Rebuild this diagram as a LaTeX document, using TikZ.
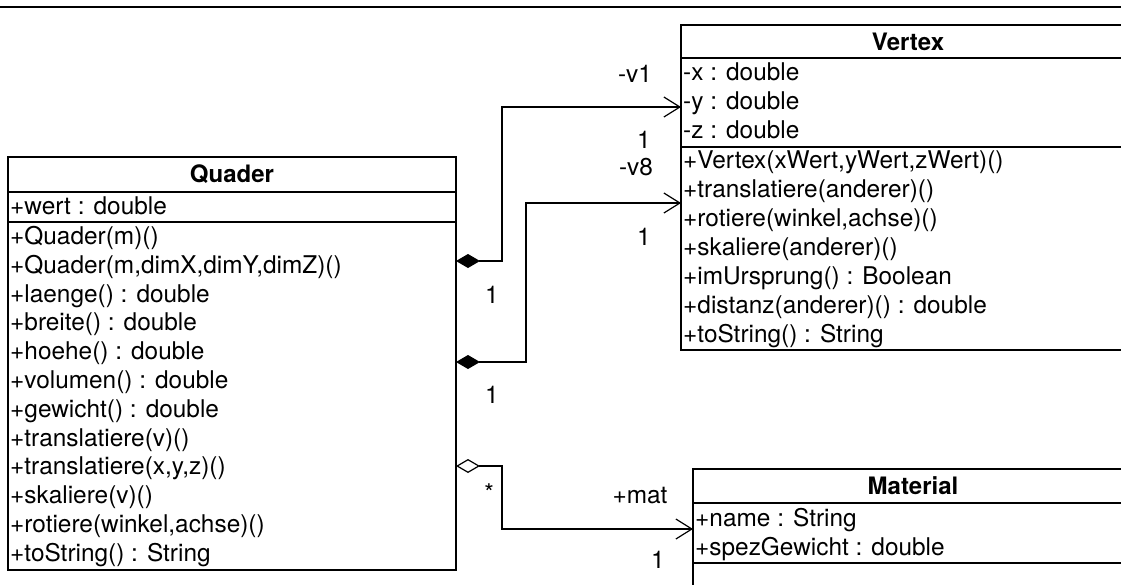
\documentclass[tikz,border=0pt]{standalone}
\usepackage{fontspec}
\setmainfont{TeX Gyre Heros}
\usetikzlibrary{arrows.meta}
\tikzset{
  umlfont/.style={font=\fontsize{24.4}{28}\selectfont},
  umlpart/.style={draw, line width=1.3pt, anchor=north west, inner sep=0pt, outer sep=0pt},
  umlhead/.style={umlfont, font=\bfseries\fontsize{24}{28}\selectfont, inner sep=0pt},
  umlrow/.style={umlfont, anchor=west, inner sep=0pt, text height=15pt, text depth=0pt},
  role/.style={umlfont, inner sep=0pt},
  comp/.style={line width=1.2pt, {Diamond[length=24pt,width=14pt]}-{Straight Barb[length=16pt,width=20pt]}},
  aggr/.style={line width=1.2pt, {Diamond[open,length=24pt,width=14pt,fill=white]}-{Straight Barb[length=16pt,width=20pt]}}
}
\begin{document}
\begin{tikzpicture}[x=1pt,y=-1pt]
\useasboundingbox (0,0) rectangle (1121,584);
\clip (0,0) rectangle (1121,584);
\draw [line width=1.2pt] (0,7)--(1121,7);

% Quader
\node [umlpart, minimum width=448pt, minimum height=35pt] (quaderhead) at (8,157) {};
\node [umlpart, minimum width=448pt, minimum height=30pt] (quaderattr) at (8,192) {};
\node [umlpart, minimum width=448pt, minimum height=348pt] (quaderops) at (8,222) {};
\node [umlhead] (quadername) at (quaderhead.center) {Quader};
\node [umlrow] (qa1) at (10,207) {+wert : double};
\node [umlrow] (qm1) at (10,237) {+Quader(m)()};
\node [umlrow] (qm2) at (10,265.8) {+Quader(m,dimX,dimY,dimZ)()};
\node [umlrow] (qm3) at (10,294.6) {+laenge() : double};
\node [umlrow] (qm4) at (10,323.4) {+breite() : double};
\node [umlrow] (qm5) at (10,352.2) {+hoehe() : double};
\node [umlrow] (qm6) at (10,381) {+volumen() : double};
\node [umlrow] (qm7) at (10,409.8) {+gewicht() : double};
\node [umlrow] (qm8) at (10,438.6) {+translatiere(v)()};
\node [umlrow] (qm9) at (10,467.4) {+translatiere(x,y,z)()};
\node [umlrow] (qm10) at (10,496.2) {+skaliere(v)()};
\node [umlrow] (qm11) at (10,525) {+rotiere(winkel,achse)()};
\node [umlrow] (qm12) at (10,553.8) {+toString() : String};

% Vertex
\node [umlpart, minimum width=454pt, minimum height=33pt] (vertexhead) at (681,25) {};
\node [umlpart, minimum width=454pt, minimum height=89pt] (vertexattr) at (681,58) {};
\node [umlpart, minimum width=454pt, minimum height=203pt] (vertexops) at (681,147) {};
\node [umlhead] (vertexname) at (vertexhead.center) {Vertex};
\node [umlrow] (va1) at (683,73) {-x : double};
\node [umlrow] (va2) at (683,102) {-y : double};
\node [umlrow] (va3) at (683,131) {-z : double};
\node [umlrow] (vm1) at (683,160.5) {+Vertex(xWert,yWert,zWert)()};
\node [umlrow] (vm2) at (683,189.5) {+translatiere(anderer)()};
\node [umlrow] (vm3) at (683,218.5) {+rotiere(winkel,achse)()};
\node [umlrow] (vm4) at (683,247.5) {+skaliere(anderer)()};
\node [umlrow] (vm5) at (683,276.5) {+imUrsprung() : Boolean};
\node [umlrow] (vm6) at (683,305.5) {+distanz(anderer)() : double};
\node [umlrow] (vm7) at (683,334.5) {+toString() : String};

% Material
\node [umlpart, minimum width=440pt, minimum height=34pt] (materialhead) at (693,469) {};
\node [umlpart, minimum width=440pt, minimum height=60pt] (materialattr) at (693,503) {};
\node [umlpart, minimum width=440pt, minimum height=40pt] (materialops) at (693,563) {};
\node [umlhead] (materialname) at (materialhead.center) {Material};
\node [umlrow] (ma1) at (695,518.5) {+name : String};
\node [umlrow] (ma2) at (695,547.5) {+spezGewicht : double};

% associations
\draw [comp] (quaderops.east |- 0,261) -| (502,107) -- (vertexattr.west |- 0,107);
\draw [comp] (quaderops.east |- 0,362) -| (526,203) -- (vertexops.west |- 0,203);
\draw [aggr] (quaderops.east |- 0,466) -| (502,529) -- (materialattr.west |- 0,529);

\node [role] (v1name) at (635,74) {-v1};
\node [role] (v1to) at (644,140) {1};
\node [role] (v1from) at (492,295) {1};
\node [role] (v8name) at (636,167) {-v8};
\node [role] (v8to) at (644,237) {1};
\node [role] (v8from) at (492,395) {1};
\node [role] (matfrom) at (489,493) {*};
\node [role] (matname) at (640,496) {+mat};
\node [role] (matto) at (658,560) {1};
\end{tikzpicture}
\end{document}
